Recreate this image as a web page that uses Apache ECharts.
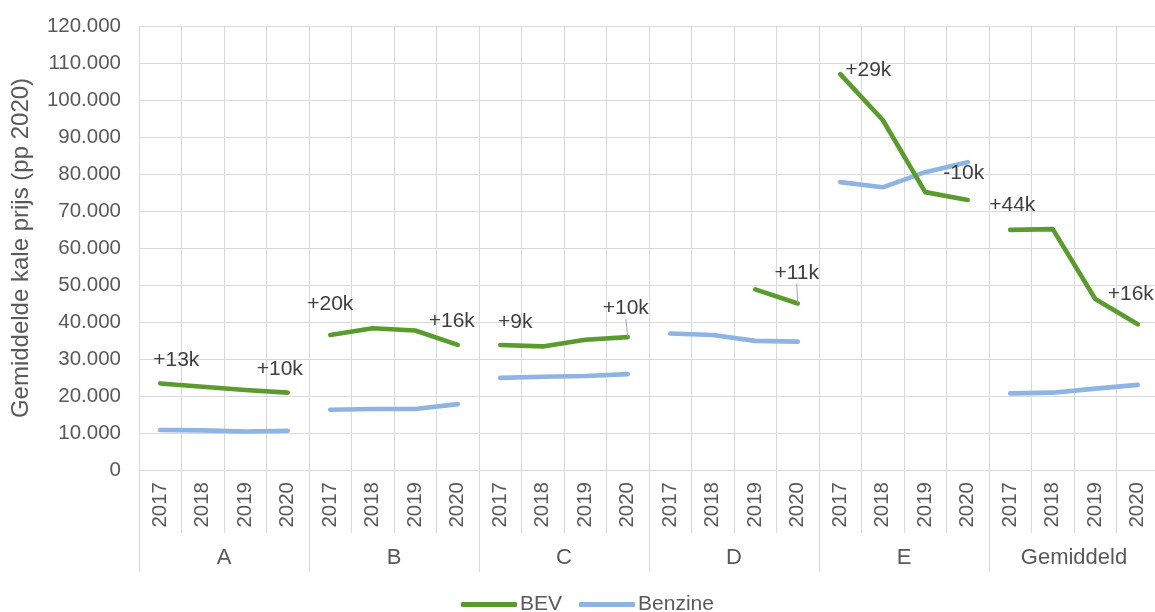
<!DOCTYPE html>
<html>
<head>
<meta charset="utf-8">
<script src="https://cdn.jsdelivr.net/npm/echarts@6/dist/echarts.min.js"></script>
<style>html,body{margin:0;padding:0;background:#fff;}#chart{width:1155px;height:612px;}</style>
</head>
<body>
<div id="chart"></div>
<script>
// ---- data ----
const groups = ['A', 'B', 'C', 'D', 'E', 'Gemiddeld'];
const years = ['2017', '2018', '2019', '2020'];
const bevA = [23400, 22500, 21600, 20900];
const bevB = [36500, 38300, 37700, 33800];
const bevC = [33800, 33400, 35200, 35900];
const bevD = [null, null, 48800, 45000];
const bevE = [107000, 94600, 75100, 73000];
const bevGem = [64900, 65100, 46200, 39400];
const benA = [10800, 10700, 10400, 10600];
const benB = [16300, 16500, 16500, 17800];
const benC = [24900, 25200, 25400, 25900];
const benD = [36900, 36500, 34900, 34700];
const benE = [77800, 76400, 80500, 83200];
const benGem = [20700, 20900, 22000, 23000];
// annotation texts on BEV points (difference BEV - Benzine), per group: [2017, 2020]
const annotations = [
  ['+13k', '+10k'], ['+20k', '+16k'], ['+9k', '+10k'],
  [null, '+11k'], ['+29k', '-10k'], ['+44k', '+16k']
];
// ---- layout (label placement) ----
const labelShift = [
  [[16, -23], [-8, -23]], [[0, -31], [-6, -24]], [[15, -23], [-2, -29]],
  [null, [-1, -30]], [[28, -4], [-4, -27]], [[2, -25], [-7, -30]]
];
const leaderLine = [[false, false], [false, false], [false, true], [false, true], [false, false], [false, false]];

const bevGroups = [bevA, bevB, bevC, bevD, bevE, bevGem];
const benGroups = [benA, benB, benC, benD, benE, benGem];

const FONT = "'Liberation Sans', Arial, sans-serif";
const GREEN = '#5a9b2e';
const BLUE = '#8db4e2';
const GRID = '#d9d9d9';
const TXT = '#595959';

const categories = [];
groups.forEach(() => years.forEach(y => categories.push(y)));

function fmt(v) {
  return String(v).replace(/\B(?=(\d{3})+(?!\d))/g, '.');
}

const series = [];
groups.forEach((g, gi) => {
  const bevData = new Array(categories.length).fill(null);
  const benData = new Array(categories.length).fill(null);
  years.forEach((y, yi) => {
    const idx = gi * years.length + yi;
    benData[idx] = benGroups[gi][yi];
    const v = bevGroups[gi][yi];
    let item = { value: v };
    const slot = yi === 0 ? 0 : (yi === years.length - 1 ? 1 : -1);
    if (slot >= 0 && annotations[gi][slot]) {
      const sh = labelShift[gi][slot];
      item.label = {
        show: true,
        position: 'inside',
        offset: sh,
        formatter: annotations[gi][slot],
        fontFamily: FONT,
        fontSize: 21,
        color: '#404040'
      };
      if (leaderLine[gi][slot]) {
        item.labelLine = { show: true, lineStyle: { color: '#a6a6a6', width: 1 } };
      }
    }
    bevData[idx] = item;
  });
  series.push({
    name: 'Benzine', type: 'line', data: benData,
    symbol: 'none', connectNulls: false, silent: true,
    lineStyle: { color: BLUE, width: 4.6, cap: 'round', join: 'round' },
    itemStyle: { color: BLUE }, z: 2, animation: false
  });
  series.push({
    name: 'BEV', type: 'line', data: bevData,
    symbol: 'circle', symbolSize: 1, showSymbol: true, showAllSymbol: true,
    connectNulls: false, silent: true,
    label: { show: false },
    labelLine: { show: false },
    lineStyle: { color: GREEN, width: 4.6, cap: 'round', join: 'round' },
    itemStyle: { color: GREEN }, z: 3, animation: false
  });
});

const chart = echarts.init(document.getElementById('chart'), null, { renderer: 'canvas' });
chart.setOption({
  animation: false,
  backgroundColor: '#fff',
  textStyle: { fontFamily: FONT },
  grid: { left: 139, top: 26, width: 1020, height: 444, containLabel: false, outerBoundsMode: 'none' },
  legend: {
    data: ['BEV', 'Benzine'],
    left: 456, top: 589,
    icon: 'roundRect', itemWidth: 56, itemHeight: 5, itemGap: 17,
    textStyle: { fontFamily: FONT, fontSize: 21, color: TXT, padding: [0, 0, 0, -2] }
  },
  xAxis: [
    {
      type: 'category', data: categories, position: 'bottom',
      axisLine: { show: true, lineStyle: { color: GRID, width: 1 } },
      axisTick: { show: true, interval: 0, length: 63, lineStyle: { color: GRID, width: 1 } },
      axisLabel: { interval: 0, rotate: 90, margin: 12, fontFamily: FONT, fontSize: 20.5, color: TXT },
      splitLine: { show: true, interval: 0, lineStyle: { color: GRID, width: 1 } }
    },
    {
      type: 'category', data: groups, position: 'bottom', offset: 0,
      axisLine: { show: false },
      axisTick: { show: true, interval: 0, length: 102, lineStyle: { color: GRID, width: 1 } },
      axisLabel: { interval: 0, margin: 77, fontFamily: FONT, fontSize: 22, color: TXT },
      splitLine: { show: false }
    }
  ],
  yAxis: {
    type: 'value', min: 0, max: 120000, interval: 10000,
    name: 'Gemiddelde kale prijs (pp 2020)',
    nameLocation: 'middle', nameGap: 106,
    nameTextStyle: { fontFamily: FONT, fontSize: 24, color: TXT },
    axisLine: { show: false }, axisTick: { show: false },
    axisLabel: { formatter: fmt, margin: 18, fontFamily: FONT, fontSize: 20.5, color: TXT },
    splitLine: { show: true, lineStyle: { color: GRID, width: 1 } }
  },
  series: series
});
</script>
</body>
</html>
